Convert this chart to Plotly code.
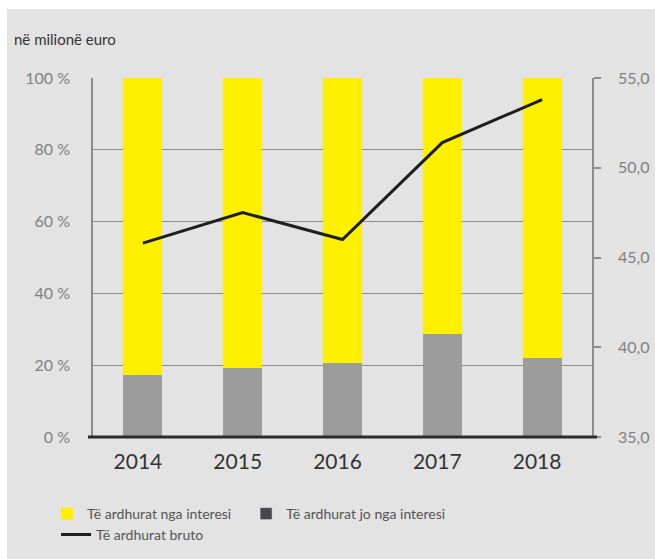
import plotly.graph_objects as go

# Data
years = ["2014", "2015", "2016", "2017", "2018"]
interest_share = [82.7, 80.8, 79.4, 71.3, 78.0]       # Të ardhurat nga interesi (%)
non_interest_share = [17.3, 19.2, 20.6, 28.7, 22.0]   # Të ardhurat jo nga interesi (%)
gross_income = [45.8, 47.5, 46.0, 51.4, 53.8]         # Të ardhurat bruto (mln EUR)

left_ticks = [0, 20, 40, 60, 80, 100]
left_labels = ["0 %", "20 %", "40 %", "60 %", "80 %", "100 %"]
right_ticks = [35, 40, 45, 50, 55]
right_labels = ["35,0", "40,0", "45,0", "50,0", "55,0"]

FONT = "Lato"
YELLOW = "#fff000"
GREY_BAR = "#9c9c9c"
GREY_LEGEND = "#474747"
GRID = "#8c8c8c"
PANEL = "#e3e3e3"

fig = go.Figure()

fig.add_trace(go.Bar(
    x=years, y=non_interest_share, name="Të ardhurat jo nga interesi",
    marker=dict(color=GREY_BAR, line=dict(width=0)), width=0.39,
    showlegend=False, hoverinfo="skip",
))
fig.add_trace(go.Bar(
    x=years, y=interest_share, name="Të ardhurat nga interesi",
    marker=dict(color=YELLOW, line=dict(width=0)), width=0.39,
    legend="legend",
))
# legend-only entry with the darker swatch
fig.add_trace(go.Bar(
    x=[None], y=[None], name="Të ardhurat jo nga interesi",
    marker=dict(color=GREY_LEGEND), legend="legend",
))
fig.add_trace(go.Scatter(
    x=years, y=gross_income, name="Të ardhurat bruto", yaxis="y2",
    mode="lines", line=dict(color="#1e1e1e", width=3),
    legend="legend2",
))

fig.update_layout(
    width=655, height=559,
    margin=dict(l=93, r=63, t=78, b=122, autoexpand=False),
    paper_bgcolor="white",
    plot_bgcolor="rgba(0,0,0,0)",
    barmode="stack",
    font=dict(family=FONT, color="#808080"),
    xaxis=dict(
        type="category", showgrid=False, showline=False, ticks="",
        tickfont=dict(size=21, color="#333333"),
        ticklabelstandoff=10, ticklabelshift=-5,
    ),
    yaxis=dict(
        range=[0, 100], tickmode="array", tickvals=left_ticks, ticktext=left_labels,
        showgrid=True, gridcolor=GRID, gridwidth=1.2,
        showline=True, linecolor=GRID, linewidth=1.5,
        zeroline=False, ticks="",
        tickfont=dict(size=16, color="#808080"),
        ticklabelstandoff=18,
    ),
    yaxis2=dict(
        overlaying="y", side="right", range=[35, 55],
        tickmode="array", tickvals=right_ticks, ticktext=right_labels,
        showgrid=False, zeroline=False,
        showline=True, linecolor=GRID, linewidth=1.5,
        ticks="outside", ticklen=7, tickcolor=GRID, tickwidth=1.5,
        tickfont=dict(size=16, color="#808080"),
        ticklabelstandoff=14,
    ),
    legend=dict(
        orientation="h", x=-0.092, xanchor="left", y=-0.17, yanchor="top",
        bgcolor="rgba(0,0,0,0)", entrywidth=154, traceorder="normal",
        font=dict(size=14, color="#555555", family=FONT),
    ),
    legend2=dict(
        orientation="h", x=-0.074, xanchor="left", y=-0.228, yanchor="top",
        bgcolor="rgba(0,0,0,0)",
        font=dict(size=14, color="#555555", family=FONT),
    ),
    shapes=[
        # grey panel behind the chart
        dict(type="rect", xref="paper", yref="paper",
             x0=-0.1723, x1=1.2, y0=-0.34, y1=1.192,
             fillcolor=PANEL, line=dict(width=0), layer="below"),
        # heavy baseline
        dict(type="line", xref="paper", yref="paper",
             x0=-0.01, x1=1.01, y0=0, y1=0,
             line=dict(color="#2b2b2b", width=3)),
    ],
    annotations=[
        dict(text="në milionë euro", xref="paper", yref="paper",
             x=-0.162, y=1.11, xanchor="left", yanchor="middle",
             showarrow=False, font=dict(size=15, color="#333333", family=FONT)),
    ],
)

fig.write_html("out.html")
